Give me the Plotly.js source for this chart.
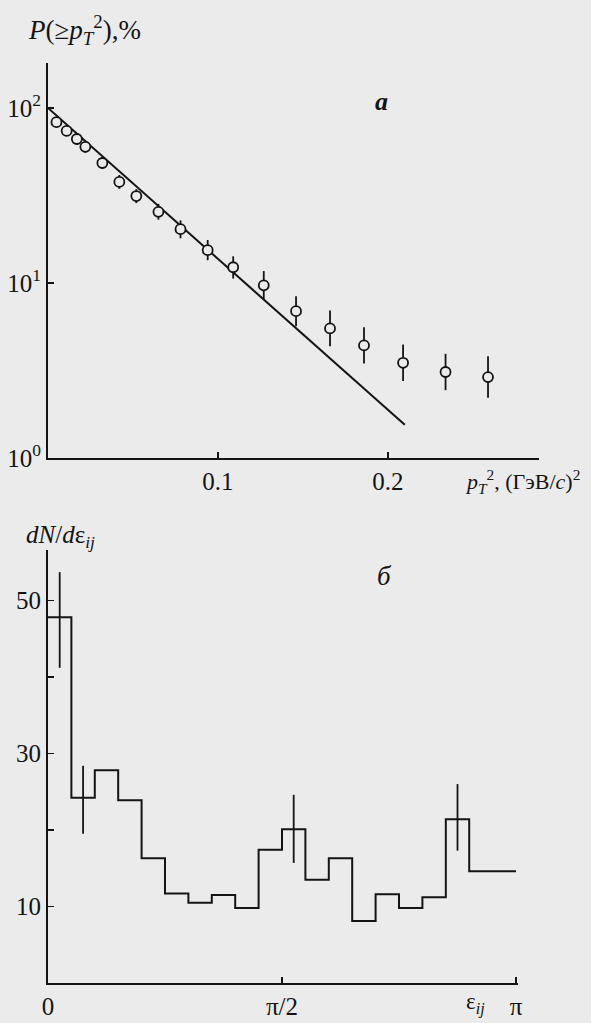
<!DOCTYPE html>
<html>
<head>
<meta charset="utf-8">
<script src="https://cdn.plot.ly/plotly-3.0.1.min.js"></script>
<style>
html,body{margin:0;padding:0;background:#ebebeb;}
#chart{width:591px;height:1023px;}
</style>
</head>
<body>
<div id="chart"></div>
<script>
// ---- Panel a: cumulative p_T^2 distribution ----
const ptX = [0.005, 0.011, 0.017, 0.022, 0.032, 0.042, 0.052, 0.065, 0.078, 0.094, 0.109, 0.127, 0.146, 0.166, 0.186, 0.209, 0.234, 0.259];
const ptY = [83, 74, 66.5, 60, 48.5, 37.8, 31.4, 25.5, 20.3, 15.4, 12.3, 9.7, 6.9, 5.5, 4.4, 3.5, 3.1, 2.9];
const ptErrUp = [5.7, 5.1, 5.4, 4.9, 3.9, 3.6, 3.0, 2.8, 2.5, 2.2, 1.9, 2.0, 1.5, 1.46, 1.18, 0.95, 0.84, 0.91];
const ptErrDown = [5.4, 4.8, 5.0, 4.5, 3.6, 3.3, 2.8, 2.5, 2.3, 1.9, 1.7, 1.6, 1.24, 1.15, 0.93, 0.75, 0.66, 0.69];
const fitX = [0, 0.21];
const fitY = [100, 1.55];
const topYTicks = [1, 10, 100];
const topYTickText = ['10<sup>0</sup>', '10<sup>1</sup>', '10<sup>2</sup>'];
const topXTicks = [0.1, 0.2];
const topXTickText = ['0.1', '0.2'];

// ---- Panel б: dN/dε_ij histogram (20 bins over [0, π]) ----
const binHeights = [47.8, 24.2, 27.8, 23.9, 16.3, 11.7, 10.5, 11.5, 9.8, 17.4, 20.1, 13.5, 16.3, 8.1, 11.6, 9.8, 11.2, 21.4, 14.6, 14.6];
const errBinIndex = [0, 1, 10, 17];
const errBinUp = [5.9, 4.2, 4.5, 4.6];
const errBinDown = [6.6, 4.7, 4.4, 4.1];
const botYTicks = [10, 30, 50];
const botYTickText = ['10', '30', '50'];
const botYMinorTicks = [20, 40];
const botXTicks = [0, Math.PI / 2, Math.PI];
const botXTickText = ['0', 'π/2', 'π'];

// ---- build ----
const nBins = binHeights.length;
const binW = Math.PI / nBins;
const stepX = [], stepY = [];
for (let i = 0; i < nBins; i++) { stepX.push(i * binW); stepY.push(binHeights[i]); }
stepX.push(Math.PI); stepY.push(binHeights[nBins - 1]);
const errX = errBinIndex.map(i => (i + 0.5) * binW);
const errY = errBinIndex.map(i => binHeights[i]);

const BG = '#ebebeb';
const INK = '#141414';
const FONT = 'Liberation Serif, Times New Roman, serif';

const traces = [
  {x: fitX, y: fitY, xaxis: 'x', yaxis: 'y', mode: 'lines', line: {color: INK, width: 2}, hoverinfo: 'skip'},
  {x: ptX, y: ptY, xaxis: 'x', yaxis: 'y', mode: 'markers',
   marker: {symbol: 'circle', size: 10, color: BG, line: {color: INK, width: 1.8}},
   error_y: {type: 'data', symmetric: false, array: ptErrUp, arrayminus: ptErrDown, color: INK, thickness: 1.8, width: 0}},
  {x: stepX, y: stepY, xaxis: 'x2', yaxis: 'y2', mode: 'lines', line: {shape: 'hv', color: INK, width: 2}},
  {x: errX, y: errY, xaxis: 'x2', yaxis: 'y2', mode: 'markers', marker: {size: 1, color: 'rgba(0,0,0,0)'},
   error_y: {type: 'data', symmetric: false, array: errBinUp, arrayminus: errBinDown, color: INK, thickness: 1.8, width: 0}}
];

const axisCommon = {
  showline: true, linecolor: INK, linewidth: 2, showgrid: false, zeroline: false,
  ticks: 'inside', ticklen: 6, tickwidth: 1.5, tickcolor: INK,
  tickfont: {family: FONT, size: 25, color: INK}, fixedrange: true
};

const layout = {
  width: 591, height: 1023,
  margin: {l: 0, r: 0, t: 0, b: 0},
  paper_bgcolor: BG, plot_bgcolor: BG,
  showlegend: false,
  xaxis: Object.assign({}, axisCommon, {domain: [0.0812, 0.912], range: [0, 0.289], anchor: 'y',
    tickmode: 'array', tickvals: topXTicks, ticktext: topXTickText, ticklabelstandoff: 0}),
  yaxis: Object.assign({}, axisCommon, {domain: [0.5523, 0.9384], type: 'log', range: [0, 2.257], anchor: 'x',
    tickmode: 'array', tickvals: topYTicks, ticktext: topYTickText, ticklabelstandoff: 0}),
  xaxis2: Object.assign({}, axisCommon, {domain: [0.0812, 0.8765], range: [0, 3.155], anchor: 'y2',
    tickmode: 'array', tickvals: botXTicks, ticktext: botXTickText}),
  yaxis2: Object.assign({}, axisCommon, {domain: [0.0391, 0.4624], range: [0, 56.6], anchor: 'x2',
    tickmode: 'array', tickvals: botYTicks, ticktext: botYTickText, ticklabelstandoff: 0,
    minor: {tickmode: 'array', tickvals: botYMinorTicks, ticks: 'inside', ticklen: 6, tickwidth: 1.5, tickcolor: INK, showgrid: false}}),
  annotations: [
    {text: '<i>P</i>(≥<i>p</i><sub><i>T</i></sub><sup>2</sup>),%', xref: 'paper', yref: 'paper',
     x: 0.044, y: 0.9707, xanchor: 'left', yanchor: 'middle', showarrow: false, font: {family: FONT, size: 27, color: INK}},
    {text: '<b><i>а</i></b>', xref: 'paper', yref: 'paper', x: 0.646, y: 0.9003,
     xanchor: 'center', yanchor: 'middle', showarrow: false, font: {family: FONT, size: 26, color: INK}},
    {text: '<i>p</i><sub><i>T</i></sub><sup>2</sup>, (ГэВ/<i>c</i>)<sup>2</sup>', xref: 'paper', yref: 'paper',
     x: 0.783, y: 0.5298, xanchor: 'left', yanchor: 'middle', showarrow: false, font: {family: FONT, size: 22, color: INK}},
    {text: '<i>dN</i>/<i>d</i>ε<sub><i>ij</i></sub>', xref: 'paper', yref: 'paper', x: 0.040, y: 0.4751,
     xanchor: 'left', yanchor: 'middle', showarrow: false, font: {family: FONT, size: 25, color: INK}},
    {text: '<i>б</i>', xref: 'paper', yref: 'paper', x: 0.6514, y: 0.437,
     xanchor: 'center', yanchor: 'middle', showarrow: false, font: {family: FONT, size: 27, color: INK}},
    {text: 'ε<sub><i>ij</i></sub>', xref: 'paper', yref: 'paper', x: 0.805, y: 0.003,
     xanchor: 'center', yanchor: 'bottom', showarrow: false, font: {family: FONT, size: 23, color: INK}}
  ]
};

Plotly.newPlot('chart', traces, layout, {displayModeBar: false, staticPlot: true});
</script>
</body>
</html>
